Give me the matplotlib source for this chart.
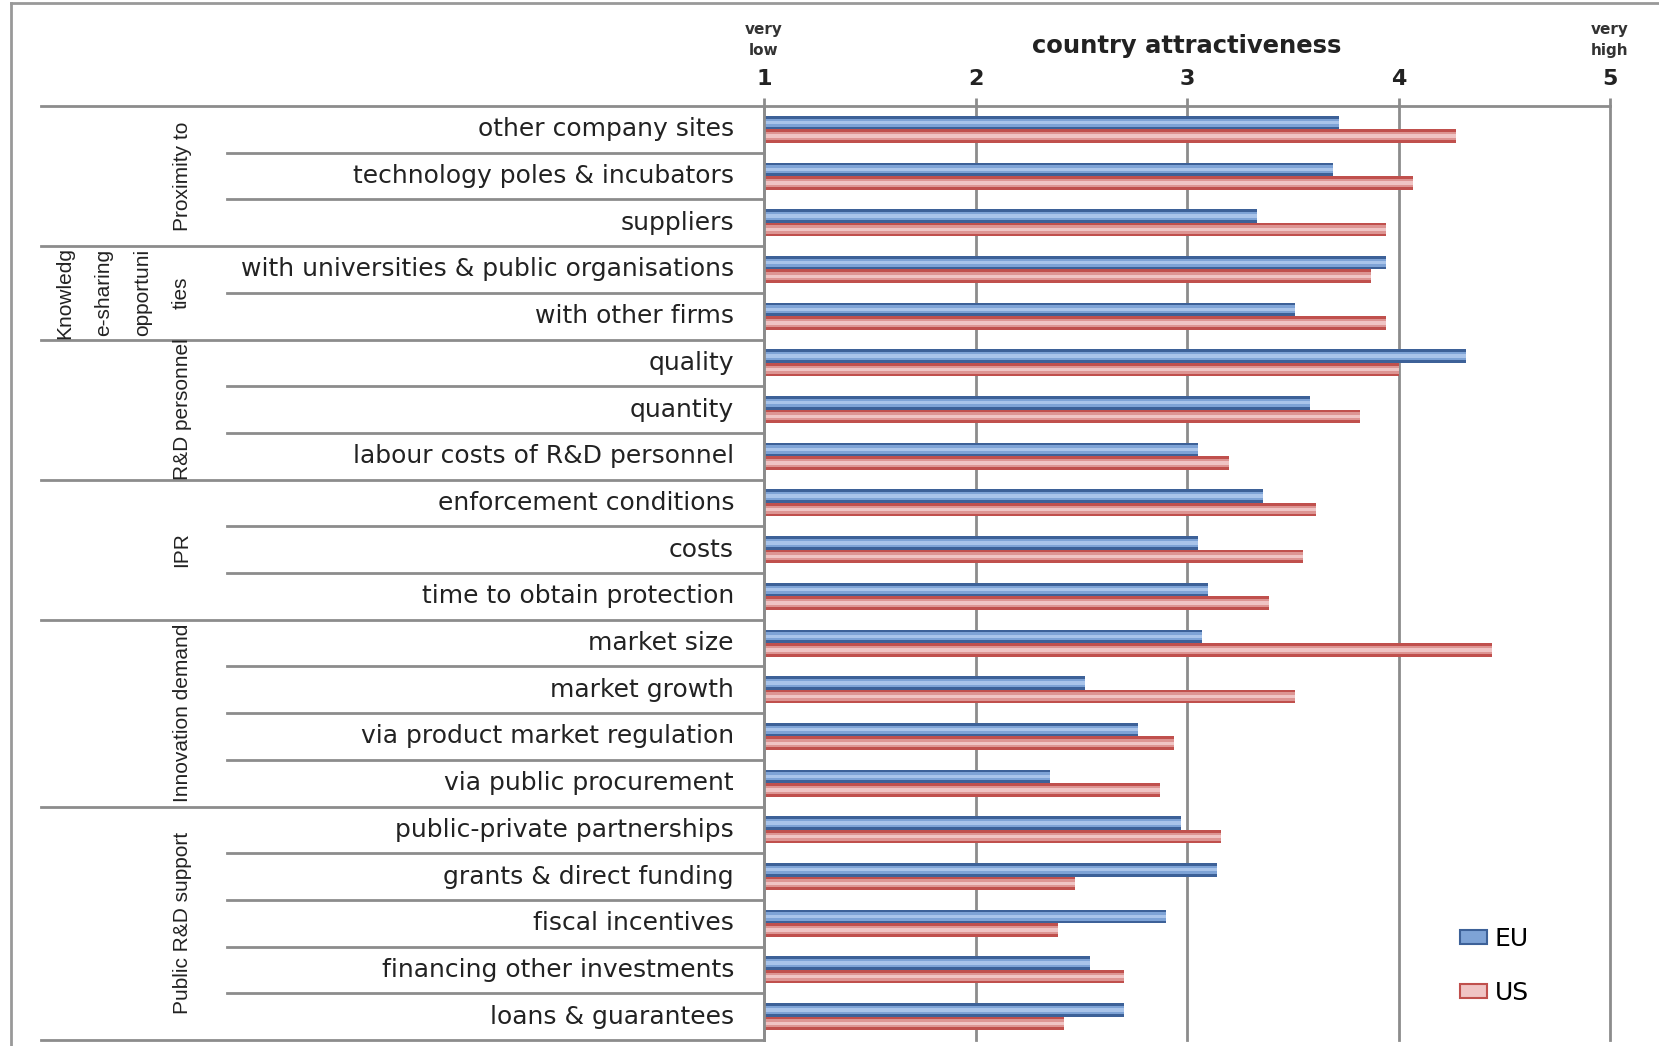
import matplotlib.pyplot as plt
import numpy as np
from matplotlib.patches import Patch
from matplotlib.lines import Line2D

# data
labels = ["other company sites", "technology poles & incubators", "suppliers",
          "with universities & public organisations", "with other firms",
          "quality", "quantity", "labour costs of R&D personnel",
          "enforcement conditions", "costs", "time to obtain protection",
          "market size", "market growth", "via product market regulation",
          "via public procurement",
          "public-private partnerships", "grants & direct funding",
          "fiscal incentives", "financing other investments", "loans & guarantees"]
eu = [3.72, 3.69, 3.33, 3.94, 3.51, 4.32, 3.58, 3.05, 3.36, 3.05, 3.10,
      3.07, 2.52, 2.77, 2.35, 2.97, 3.14, 2.90, 2.54, 2.70]
us = [4.27, 4.07, 3.94, 3.87, 3.94, 4.00, 3.82, 3.20, 3.61, 3.55, 3.39,
      4.44, 3.51, 2.94, 2.87, 3.16, 2.47, 2.39, 2.70, 2.42]
groups = ["Proximity to", "Knowledg\ne-sharing\nopportuni\nties", "R&D personnel",
          "IPR", "Innovation demand", "Public R&D support"]
group_sizes = [3, 2, 3, 3, 4, 5]

W, H = 1659, 1046
fig = plt.figure(figsize=(W / 100, H / 100), dpi=100)
# axes placed in pixel terms
x0, x1, ytop, ybot = 764, 1610, 106, 1040
ax = fig.add_axes([x0 / W, (H - ybot) / H, (x1 - x0) / W, (ybot - ytop) / H])

n = len(labels)
y = np.arange(n) + 0.5
h = 0.29
blue_dk, blue_md, blue_lt = "#3d6198", "#7ea3d6", "#a9c4ea"
red_dk, red_md, red_lt = "#c0504d", "#dd9593", "#f0c4c4"

left = 1
eu_w = np.array(eu) - left
us_w = np.array(us) - left
# fake gradient bars: dark outer, mid, light core
ax.barh(y - h / 2, eu_w, h, left=left, color=blue_dk, zorder=3)
ax.barh(y - h / 2, eu_w, h * 0.6, left=left, color=blue_md, zorder=3)
ax.barh(y - h / 2, eu_w, h * 0.25, left=left, color=blue_lt, zorder=3)
ax.barh(y + h / 2, us_w, h, left=left, color=red_dk, zorder=3)
ax.barh(y + h / 2, us_w, h * 0.6, left=left, color=red_md, zorder=3)
ax.barh(y + h / 2, us_w, h * 0.25, left=left, color=red_lt, zorder=3)

ax.set_xlim(1, 5)
ax.set_ylim(n, 0)
gcol = "#8c8c8c"
ax.set_xticks([1, 2, 3, 4, 5])
ax.xaxis.tick_top()
ax.tick_params(axis="x", length=6, width=2, color=gcol, pad=6, labelsize=16,
               labelcolor="#222222")
for t in ax.get_xticklabels():
    t.set_fontweight("bold")
ax.set_yticks([])
ax.grid(axis="x", color=gcol, linewidth=2, zorder=0)
for gl in ax.get_xgridlines():
    gl.set_clip_on(False)
for s in ["right", "bottom", "left"]:
    ax.spines[s].set_visible(False)
ax.spines["top"].set_color(gcol)
ax.spines["top"].set_linewidth(2)

tr = ax.get_yaxis_transform()
fx = lambda px: (px - x0) / (x1 - x0)
fy = lambda py: 1 + (ytop - py) / (ybot - ytop)

# top line extension and category labels
ax.plot([fx(41), 0], [0, 0], transform=tr, color=gcol, lw=2, clip_on=False)
for i, lab in enumerate(labels):
    ax.text(fx(734), i + 0.5, lab, transform=tr, ha="right", va="center",
            fontsize=18, color="#222222")

# separators and group labels
start = 0
for g, sz in zip(groups, group_sizes):
    for k in range(start + 1, start + sz):
        ax.plot([fx(227), 0], [k, k], transform=tr, color=gcol, lw=2, clip_on=False)
    end = start + sz
    ax.plot([fx(41), 0], [end, end], transform=tr, color=gcol, lw=2, clip_on=False)
    gx = fx(123) if "\n" in g else fx(182)
    ax.text(gx, (start + end) / 2, g, transform=tr, rotation=90, ha="center",
            va="center", fontsize=15, linespacing=2.3,
            family=["Liberation Sans", "DejaVu Sans"], color="#222222")
    start = end
ax.plot([0, 0], [0, n], transform=tr, color=gcol, lw=2, clip_on=False, zorder=4)

# header texts
xtr = ax.get_xaxis_transform()
ax.text(3, fy(46), "country attractiveness", transform=xtr, ha="center",
        va="center", fontsize=17.5, fontweight="bold", color="#222222")
for xv, txt in [(1, "very\nlow"), (5, "very\nhigh")]:
    ax.text(xv, fy(40), txt, transform=xtr, ha="center", va="center",
            fontsize=11, fontweight="bold", color="#333333", linespacing=1.5)

# legend
handles = [Patch(facecolor=blue_md, edgecolor=blue_dk, lw=1.5, label="EU"),
           Patch(facecolor=red_lt, edgecolor=red_dk, lw=1.5, label="US")]
fig.legend(handles=handles, loc="center left", bbox_to_anchor=(1437 / W, 1 - 966 / H),
           frameon=False, fontsize=18, labelspacing=1.2, handlelength=1.1,
           handleheight=0.5, handletextpad=0.3)

# outer frame
fig.add_artist(Line2D([11 / W, 11 / W], [0, 1 - 3 / H], color="#999999", lw=2))
fig.add_artist(Line2D([11 / W, 1], [1 - 3 / H, 1 - 3 / H], color="#999999", lw=2))

fig.savefig("out.png", dpi=100)
